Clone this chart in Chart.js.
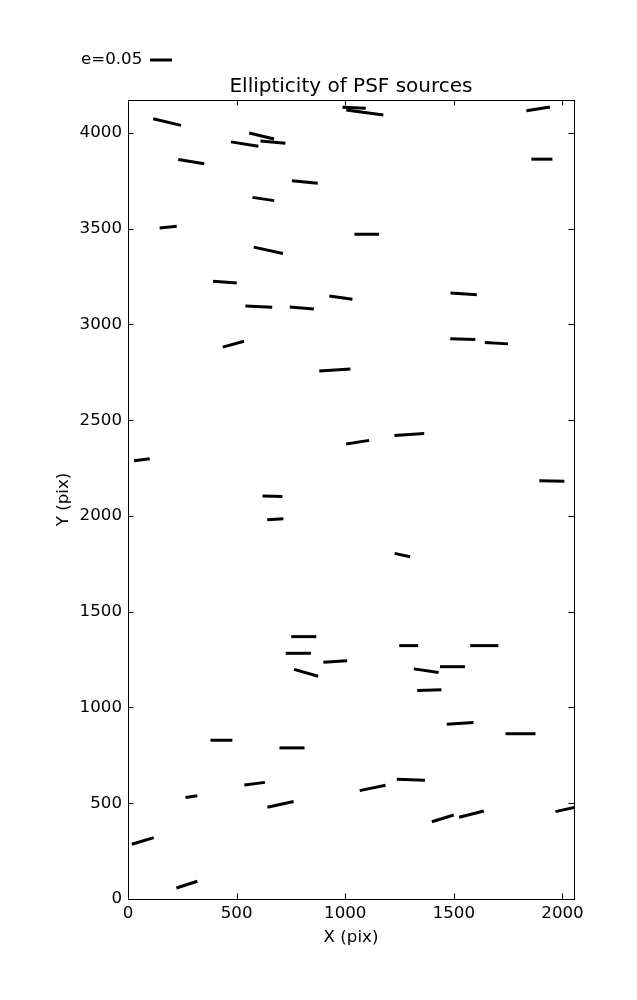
<!DOCTYPE html>
<html>
<head>
<meta charset="utf-8">
<script src="https://cdn.jsdelivr.net/npm/chart.js@4/dist/chart.umd.min.js"></script>
<style>
  html, body { margin: 0; padding: 0; background: #fff; }
  #wrap { width: 637px; height: 1000px; position: relative; }
</style>
</head>
<body>
<div id="wrap"><canvas id="c"></canvas></div>
<script>
// source positions (pix) and ellipticity whiskers
var xs = [180, 615, 537, 667, 291, 814, 623, 185, 646, 446, 602, 800, 980, 485, 1041, 1090,
          1888, 1905, 1099, 1545, 1541, 1696, 952, 64, 1057, 665, 678, 1295, 1951, 1263,
          809, 784, 954, 820, 430, 755, 583, 292, 702, 68, 271,
          1292, 1640, 1373, 1494, 1387, 1529, 1807, 1302, 1126, 1449, 1581, 2019];
var ys = [4057, 3984, 3942, 3952, 3850, 3744, 3655, 3508, 3387, 3221, 3093, 3086, 3140, 2897, 4131, 4107,
          4126, 3863, 3471, 3160, 2923, 2902, 2762, 2294, 2385, 2103, 1983, 2425, 2183, 1796,
          1370, 1283, 1240, 1181, 829, 789, 602, 535, 494, 303, 75,
          1323, 1323, 1192, 1213, 1091, 917, 863, 623, 580, 421, 443, 469];
var es = [0.065, 0.058, 0.063, 0.057, 0.060, 0.059, 0.050, 0.039, 0.068, 0.054, 0.061, 0.055, 0.053, 0.050, 0.053, 0.085,
          0.054, 0.048, 0.056, 0.060, 0.057, 0.053, 0.071, 0.036, 0.053, 0.045, 0.037, 0.068, 0.057, 0.036,
          0.057, 0.057, 0.054, 0.057, 0.050, 0.057, 0.047, 0.027, 0.061, 0.052, 0.050,
          0.043, 0.064, 0.057, 0.057, 0.055, 0.061, 0.068, 0.064, 0.060, 0.052, 0.058, 0.052];
// angle in degrees, counter-clockwise from +X
var thetas = [-13.5, -13.5, -9, -5.3, -9.4, -5.9, -8.5, 5.7, -12.3, -4.1, -2.8, -4.8, -8.2, 15.7, -2.4, -7.7,
              9, 0, 0, -3.7, -1.6, -3.2, 3.7, 7.3, 9.1, -2, 3.5, 3.8, -1, -12.2,
              0, 0, 4.1, -16.1, 0, 0, 7.4, 8.3, 12.2, 16.9, 17.7,
              0, 0, -8.5, 0, 1.7, 3.6, 0, -2, 11.7, 16.9, 14.3, 12.5];

var xTicks = [0, 500, 1000, 1500, 2000];
var yTicks = [0, 500, 1000, 1500, 2000, 2500, 3000, 3500, 4000];

var keyE = 0.05;
var keyLen = 22; // pixels for e=0.05
var pxPerE = keyLen / keyE;

var font = "'DejaVu Sans', sans-serif";
var fs = 16.67;

var points = xs.map(function(x, i){ return {x: x, y: ys[i]}; });

// inward ticks on all sides, frame and the e key
var framePlugin = {
  id: 'frame',
  afterDraw: function(chart){
    var ctx = chart.ctx, a = chart.chartArea;
    var sx = chart.scales.x, sy = chart.scales.y;
    var tl = 5.5;
    ctx.save();
    ctx.strokeStyle = '#000';
    ctx.lineWidth = 1;
    ctx.beginPath();
    sx.ticks.forEach(function(t){
      var p = Math.round(sx.getPixelForValue(t.value)) + 0.5;
      ctx.moveTo(p, a.bottom); ctx.lineTo(p, a.bottom - tl);
      ctx.moveTo(p, a.top); ctx.lineTo(p, a.top + tl);
    });
    sy.ticks.forEach(function(t){
      var p = Math.round(sy.getPixelForValue(t.value)) + 0.5;
      ctx.moveTo(a.left, p); ctx.lineTo(a.left + tl, p);
      ctx.moveTo(a.right, p); ctx.lineTo(a.right - tl, p);
    });
    ctx.stroke();
    ctx.strokeRect(Math.round(a.left) + 0.5, Math.round(a.top) + 0.5,
                   Math.round(a.right - a.left), Math.round(a.bottom - a.top));

    // key
    ctx.fillStyle = '#000';
    ctx.font = fs + 'px ' + font;
    ctx.textBaseline = 'middle';
    ctx.textAlign = 'left';
    ctx.fillText('e=' + keyE.toFixed(2), 81, 60);
    ctx.lineWidth = 3;
    ctx.beginPath();
    ctx.moveTo(150, 60);
    ctx.lineTo(150 + keyLen, 60);
    ctx.stroke();
    ctx.restore();
  }
};

function setTicks(values){
  return function(scale){
    scale.ticks = values.map(function(v){ return {value: v}; });
  };
}

function plain(v){ return String(v); }

new Chart(document.getElementById('c'), {
  type: 'scatter',
  data: {
    datasets: [{
      data: points,
      pointStyle: 'line',
      pointRadius: es.map(function(e){ return e * pxPerE / 2; }),
      pointHoverRadius: es.map(function(e){ return e * pxPerE / 2; }),
      rotation: thetas.map(function(t){ return -t; }),
      borderColor: '#000',
      backgroundColor: '#000',
      borderWidth: 3,
      pointBorderWidth: 3,
      clip: 0
    }]
  },
  options: {
    responsive: true,
    maintainAspectRatio: false,
    animation: false,
    events: [],
    layout: { padding: { left: 0, right: 63, top: 0, bottom: 0 } },
    plugins: {
      legend: { display: false },
      tooltip: { enabled: false },
      title: {
        display: true,
        text: 'Ellipticity of PSF sources',
        color: '#000',
        fullSize: false,
        font: { family: font, size: 20, weight: 'normal', lineHeight: 1.2 },
        padding: { top: 75, bottom: 1 }
      }
    },
    scales: {
      x: {
        type: 'linear',
        min: 0,
        max: 2053,
        ticks: { color: '#000', padding: 5, maxRotation: 0, autoSkip: false, callback: plain,
                 font: { family: font, size: fs } },
        grid: { display: false, drawTicks: false },
        border: { display: false },
        title: { display: true, text: 'X (pix)', color: '#000',
                 font: { family: font, size: fs }, padding: { top: 0, bottom: 52 } },
        afterBuildTicks: setTicks(xTicks),
        afterFit: function(s){ s.height = 101; }
      },
      y: {
        type: 'linear',
        min: 0,
        max: 4172,
        ticks: { color: '#000', padding: 6, autoSkip: false, callback: plain,
                 font: { family: font, size: fs } },
        grid: { display: false, drawTicks: false },
        border: { display: false },
        title: { display: true, text: 'Y (pix)', color: '#000',
                 font: { family: font, size: fs }, padding: { top: 53.5, bottom: 0 } },
        afterBuildTicks: setTicks(yTicks),
        afterFit: function(s){ s.width = 128; }
      }
    }
  },
  plugins: [framePlugin]
});
</script>
</body>
</html>
